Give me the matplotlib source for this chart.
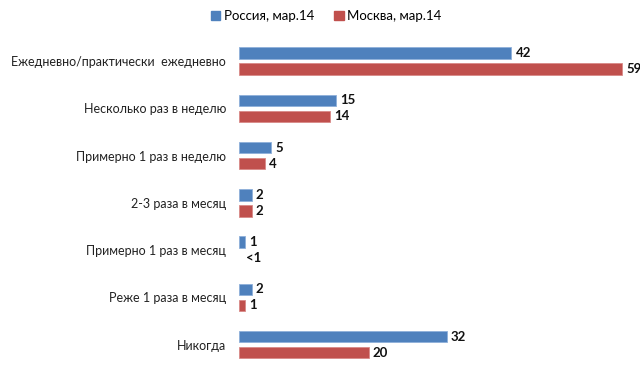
import numpy as np
import matplotlib.pyplot as plt
from matplotlib.patches import Patch

categories = ['Ежедневно/практически  ежедневно', 'Несколько раз в неделю',
              'Примерно 1 раз в неделю', '2-3 раза в месяц',
              'Примерно 1 раз в месяц', 'Реже 1 раза в месяц', 'Никогда']
russia = [42, 15, 5, 2, 1, 2, 32]
moscow = [59, 14, 4, 2, 0, 1, 20]
russia_labels = ['42', '15', '5', '2', '1', '2', '32']
moscow_labels = ['59', '14', '4', '2', '<1', '1', '20']

blue = '#4F81BD'
red = '#C0504D'
plt.rcParams['font.family'] = ['Lato', 'DejaVu Sans']

fig = plt.figure(figsize=(6.4, 3.81), dpi=100)
ax = fig.add_axes([0.373, 0.021, 0.627, 0.893])

y = np.arange(len(categories))
off = 0.17
h = 0.24
ax.barh(y - off, russia, height=h, color=blue, edgecolor='#8FB0DA', linewidth=0.6)
ax.barh(y + off, moscow, height=h, color=red, edgecolor='#D98A88',
        linewidth=[0.6 if v > 0 else 0 for v in moscow])

for i in range(len(categories)):
    ax.annotate(russia_labels[i], (russia[i], y[i] - off), xytext=(3, 0),
                textcoords='offset points', va='center', ha='left',
                fontsize=9.5, fontweight='bold', color='#111111')
    ax.annotate(moscow_labels[i], (moscow[i], y[i] + off), xytext=(3 if moscow[i] > 0 else 5, 0),
                textcoords='offset points', va='center', ha='left',
                fontsize=9.5, fontweight='bold', color='#111111')

ax.set_xlim(0, 61.8)
ax.set_ylim(6.6, -0.6)
ax.set_yticks(y)
ax.set_yticklabels(categories, fontsize=9, color='#222222')
ax.tick_params(axis='y', length=0, pad=9)
ax.set_xticks([])
for s in ax.spines.values():
    s.set_visible(False)

handles = [Patch(color=blue, label='Россия, мар.14'), Patch(color=red, label='Москва, мар.14')]
fig.legend(handles=handles, loc='center', bbox_to_anchor=(0.51, 0.957), ncol=2,
           frameon=False, fontsize=9.5, handlelength=0.7, handleheight=0.7,
           handletextpad=0.3, columnspacing=1.5)

fig.savefig('out.png', dpi=100)
